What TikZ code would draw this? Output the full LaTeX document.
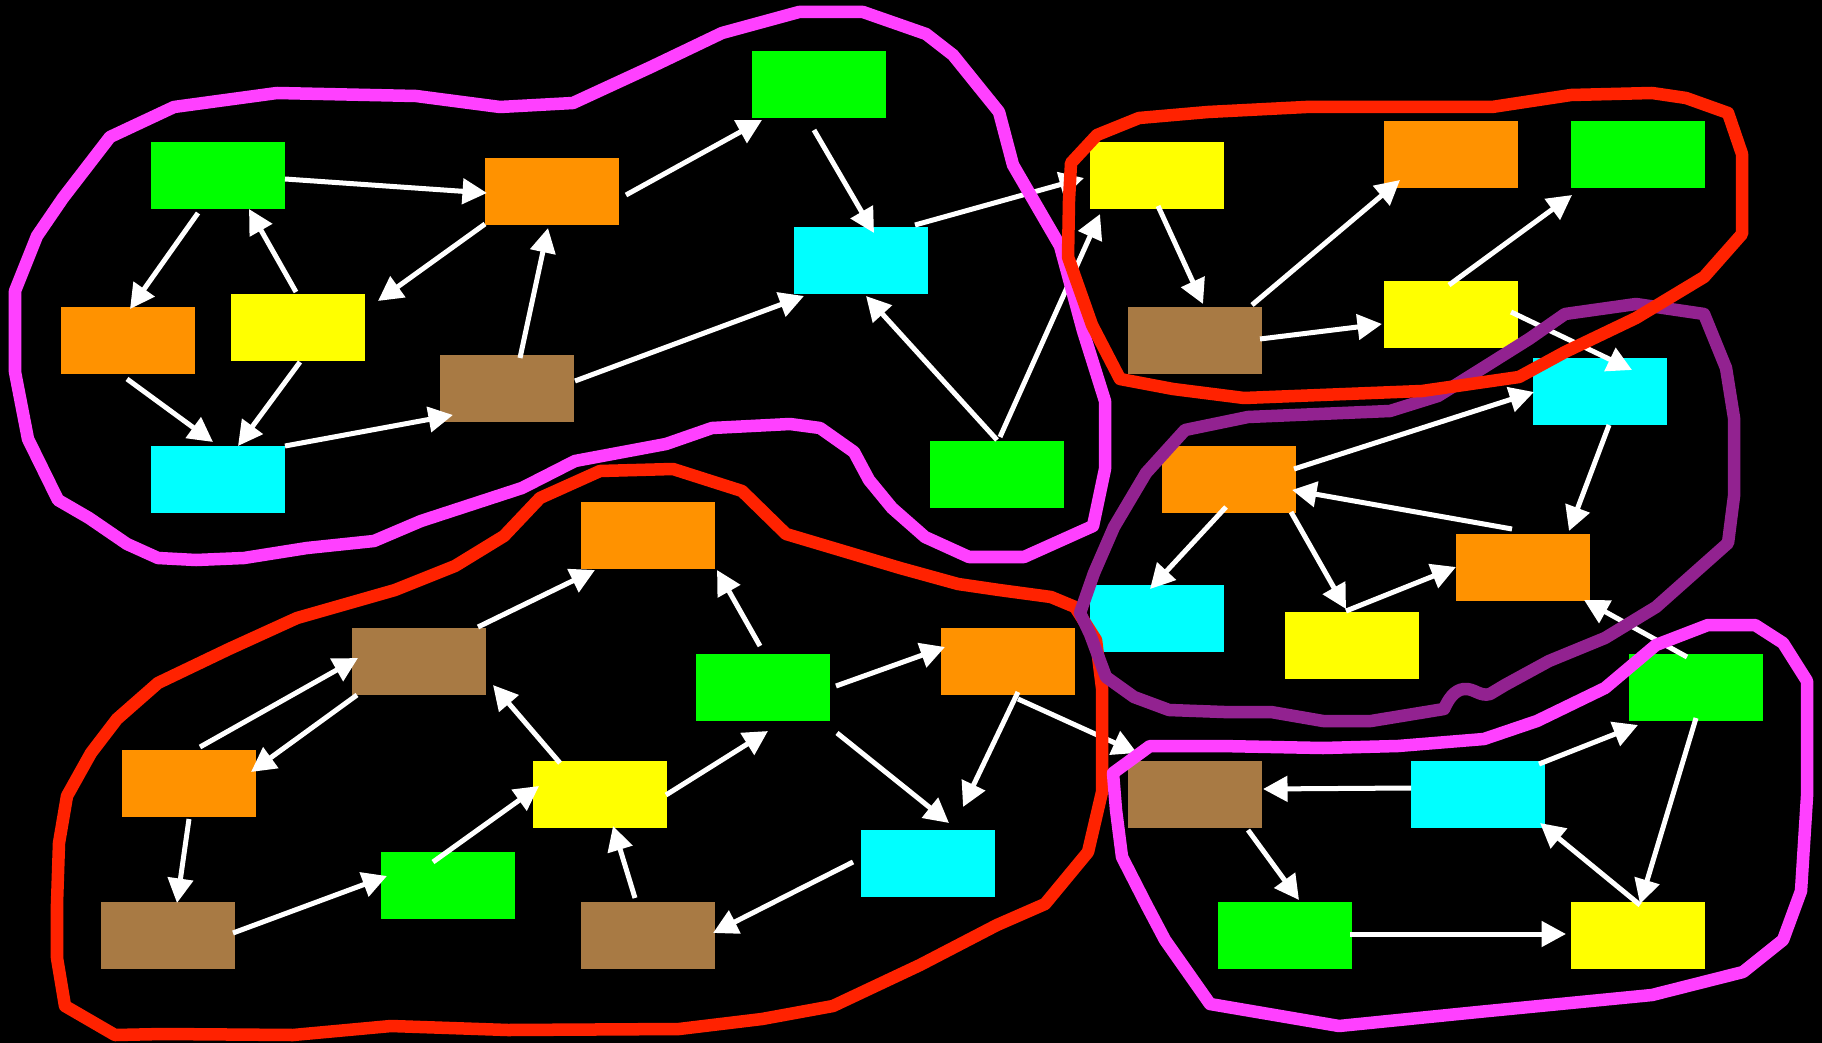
\documentclass[tikz,border=0pt]{standalone}
\usetikzlibrary{arrows.meta}
\definecolor{cgreen}{RGB}{0,255,0}
\definecolor{corange}{RGB}{255,146,0}
\definecolor{cyellow}{RGB}{255,255,0}
\definecolor{ccyan}{RGB}{0,255,255}
\definecolor{cbrown}{RGB}{168,122,68}
\definecolor{cmagenta}{RGB}{255,64,255}
\definecolor{cred}{RGB}{255,34,0}
\definecolor{cpurple}{RGB}{146,34,144}
\begin{document}
\begin{tikzpicture}[x=0.01cm,y=-0.01cm,
  box/.style={minimum width=1.34cm,minimum height=0.67cm,inner sep=0pt,outer sep=0pt},
  gbox/.style={box,fill=cgreen},
  obox/.style={box,fill=corange},
  ybox/.style={box,fill=cyellow},
  cbox/.style={box,fill=ccyan},
  bbox/.style={box,fill=cbrown},
  arr/.style={white,line width=0.05cm,-{Triangle[length=0.245cm,width=0.25cm]}},
  hull/.style={line width=0.125cm,line join=round}]
% background and frame
\fill[black] (0,0) rectangle (1822,1043);
\useasboundingbox (0,0) rectangle (1822,1043);

% boxes
\node[gbox] (G1) at (218,175.5) {};
\node[obox] (O1) at (552,191.5) {};
\node[gbox] (G2) at (819,84.5) {};
\node[obox] (O2) at (128,340.5) {};
\node[ybox] (Y1) at (298,327.5) {};
\node[bbox] (B1) at (507,388.5) {};
\node[cbox] (C1) at (861,260.5) {};
\node[cbox] (C2) at (218,479.5) {};
\node[gbox] (G3) at (997,474.5) {};
\node[ybox] (Y2) at (1157,175.5) {};
\node[obox] (O3) at (1451,154.5) {};
\node[gbox] (G4) at (1638,154.5) {};
\node[bbox] (B2) at (1195,340.5) {};
\node[ybox] (Y3) at (1451,314.5) {};
\node[cbox] (C3) at (1600,391.5) {};
\node[obox] (O4) at (1229,479.5) {};
\node[obox] (O5) at (1523,567.5) {};
\node[cbox] (C4) at (1157,618.5) {};
\node[ybox] (Y4) at (1352,645.5) {};
\node[gbox] (G5) at (1696,687.5) {};
\node[obox] (O6) at (648,535.5) {};
\node[bbox] (B3) at (419,661.5) {};
\node[gbox] (G6) at (763,687.5) {};
\node[obox] (O7) at (1008,661.5) {};
\node[obox] (O8) at (189,783.5) {};
\node[ybox] (Y5) at (600,794.5) {};
\node[cbox] (C5) at (928,863.5) {};
\node[bbox] (B4) at (168,935.5) {};
\node[gbox] (G7) at (448,885.5) {};
\node[bbox] (B5) at (648,935.5) {};
\node[bbox] (B6) at (1195,794.5) {};
\node[cbox] (C6) at (1478,794.5) {};
\node[gbox] (G8) at (1285,935.5) {};
\node[ybox] (Y6) at (1638,935.5) {};

% connectors
\draw[arr] ([shift={(67,3.5)}]G1.center) -- ([shift={(-65,1.5)}]O1.center);
\draw[arr] ([shift={(74,3.5)}]O1.center) -- ([shift={(-57,35.5)}]G2.center);
\draw[arr] ([shift={(-5,45.5)}]G2.center) -- ([shift={(13,-27.5)}]C1.center);
\draw[arr] ([shift={(54,-35.5)}]C1.center) -- ([shift={(-73,2.5)}]Y2.center);
\draw[arr] ([shift={(-20,37.5)}]G1.center) -- ([shift={(2,-31.5)}]O2.center);
\draw[arr] ([shift={(-2,-35.5)}]Y1.center) -- ([shift={(31,33.5)}]G1.center);
\draw[arr] ([shift={(-67,32.5)}]O1.center) -- ([shift={(80,-26.5)}]Y1.center);
\draw[arr] ([shift={(13,-30.5)}]B1.center) -- ([shift={(-4,36.5)}]O1.center);
\draw[arr] ([shift={(68,-7.5)}]B1.center) -- ([shift={(-57,35.5)}]C1.center);
\draw[arr] ([shift={(-1,38.5)}]O2.center) -- ([shift={(-5,-37.5)}]C2.center);
\draw[arr] ([shift={(2,34.5)}]Y1.center) -- ([shift={(20,-33.5)}]C2.center);
\draw[arr] ([shift={(67,-33.5)}]C2.center) -- ([shift={(-54,26.5)}]B1.center);
\draw[arr] ([shift={(0,-34.5)}]G3.center) -- ([shift={(5,35.5)}]C1.center);
\draw[arr] ([shift={(3,-37.5)}]G3.center) -- ([shift={(-57,38.5)}]Y2.center);
\draw[arr] ([shift={(1,30.5)}]Y2.center) -- ([shift={(8,-36.5)}]B2.center);
\draw[arr] ([shift={(57,-35.5)}]B2.center) -- ([shift={(-51,25.5)}]O3.center);
\draw[arr] ([shift={(-2,-29.5)}]Y3.center) -- ([shift={(-66,40.5)}]G4.center);
\draw[arr] ([shift={(65,-1.5)}]B2.center) -- ([shift={(-69,9.5)}]Y3.center);
\draw[arr] ([shift={(60,-2.5)}]Y3.center) -- ([shift={(32,-21.5)}]C3.center);
\draw[arr] ([shift={(65,-10.5)}]O4.center) -- ([shift={(-66,0.5)}]C3.center);
\draw[arr] ([shift={(9,33.5)}]C3.center) -- ([shift={(46,-36.5)}]O5.center);
\draw[arr] ([shift={(-11,-38.5)}]O5.center) -- ([shift={(63,10.5)}]O4.center);
\draw[arr] ([shift={(-3,27.5)}]O4.center) -- ([shift={(-7,-29.5)}]C4.center);
\draw[arr] ([shift={(62,32.5)}]O4.center) -- ([shift={(-6,-36.5)}]Y4.center);
\draw[arr] ([shift={(-6,-34.5)}]Y4.center) -- ([shift={(-67,-0.5)}]O5.center);
\draw[arr] ([shift={(-9,-30.5)}]G5.center) -- ([shift={(61,32.5)}]O5.center);
\draw[arr] ([shift={(0,30.5)}]G5.center) -- ([shift={(2,-31.5)}]Y6.center);
\draw[arr] ([shift={(61,-30.5)}]C6.center) -- ([shift={(-58,37.5)}]G5.center);
\draw[arr] ([shift={(2,-30.5)}]Y6.center) -- ([shift={(62,28.5)}]C6.center);
\draw[arr] ([shift={(-67,-6.5)}]C6.center) -- ([shift={(68,-5.5)}]B6.center);
\draw[arr] ([shift={(53,35.5)}]B6.center) -- ([shift={(14,-35.5)}]G8.center);
\draw[arr] ([shift={(65,-1.5)}]G8.center) -- ([shift={(-72,-1.5)}]Y6.center);
\draw[arr] ([shift={(10,37.5)}]O7.center) -- ([shift={(-58,-41.5)}]B6.center);
\draw[arr] ([shift={(10,30.5)}]O7.center) -- ([shift={(35,-56.5)}]C5.center);
\draw[arr] ([shift={(73,-1.5)}]G6.center) -- ([shift={(-63,-14.5)}]O7.center);
\draw[arr] ([shift={(-3,-41.5)}]G6.center) -- ([shift={(69,34.5)}]O6.center);
\draw[arr] ([shift={(59,-34.5)}]B3.center) -- ([shift={(-53,34.5)}]O6.center);
\draw[arr] ([shift={(11,-36.5)}]O8.center) -- ([shift={(-61,-3.5)}]B3.center);
\draw[arr] ([shift={(-62,33.5)}]B3.center) -- ([shift={(62,-11.5)}]O8.center);
\draw[arr] ([shift={(-40,-31.5)}]Y5.center) -- ([shift={(74,23.5)}]B3.center);
\draw[arr] ([shift={(66,0.5)}]Y5.center) -- ([shift={(5,43.5)}]G6.center);
\draw[arr] ([shift={(74,45.5)}]G6.center) -- ([shift={(21,-40.5)}]C5.center);
\draw[arr] ([shift={(0,35.5)}]O8.center) -- ([shift={(9,-32.5)}]B4.center);
\draw[arr] ([shift={(65,-2.5)}]B4.center) -- ([shift={(-61,-9.5)}]G7.center);
\draw[arr] ([shift={(-15,-23.5)}]G7.center) -- ([shift={(-61,-8.5)}]Y5.center);
\draw[arr] ([shift={(-13,-37.5)}]B5.center) -- ([shift={(13,31.5)}]Y5.center);
\draw[arr] ([shift={(-75,-1.5)}]C5.center) -- ([shift={(65,-2.5)}]B5.center);

% group outlines
\draw[hull,cmagenta] (174,107) -- (277,93) -- (416,96) -- (500,107) -- (573,103) -- (651,67) -- (722,33) -- (799,12) -- (863,12) -- (926,34) -- (953,55) -- (999,112) -- (1013,165) -- (1060,246) -- (1083,331) -- (1105,401) -- (1105,469) -- (1093,526) -- (1024,557) -- (969,557) -- (925,537) -- (892,508) -- (869,480) -- (854,452) -- (820,428) -- (790,424) -- (712,428) -- (666,444) -- (575,461) -- (522,488) -- (421,521) -- (374,541) -- (307,548) -- (244,558) -- (196,560) -- (158,558) -- (127,544) -- (89,518) -- (58,500) -- (28,439) -- (15,372) -- (15,291) -- (37,236) -- (63,198) -- (110,137) -- cycle;
\draw[hull,cred] (65,1006) -- (57,958) -- (57,904) -- (59,843) -- (67,796) -- (91,753) -- (117,719) -- (158,683) -- (229,649) -- (297,618) -- (395,590) -- (455,566) -- (504,536) -- (540,498) -- (600,471) -- (673,469) -- (742,491) -- (786,534) -- (833,548) -- (900,568) -- (958,584) -- (999,590) -- (1051,597) -- (1075,607) -- (1096,640) -- (1102,688) -- (1102,792) -- (1088,852) -- (1045,904) -- (997,925) -- (920,965) -- (833,1006) -- (762,1019) -- (679,1029) -- (508,1030) -- (391,1026) -- (293,1035) -- (163,1034) -- (115,1035) -- cycle;
\draw[hull,cmagenta] (1113,773) -- (1150,746) -- (1220,746) -- (1323,748) -- (1398,746) -- (1484,739) -- (1537,721) -- (1605,688) -- (1656,645) -- (1708,625) -- (1755,625) -- (1783,643) -- (1807,681) -- (1807,796) -- (1801,891) -- (1783,940) -- (1743,972) -- (1652,995) -- (1478,1012) -- (1339,1026) -- (1210,1004) -- (1165,940) -- (1146,904) -- (1122,857) -- (1116,810) -- cycle;
\draw[hull,cpurple] (1185,430) -- (1248,417) -- (1390,411) -- (1438,396) -- (1478,371) -- (1529,339) -- (1565,314) -- (1636,304) -- (1704,314) -- (1726,368) -- (1734,418) -- (1734,496) -- (1728,543) -- (1656,607) -- (1605,638) -- (1549,661) -- (1505,685) -- (1490,694) .. controls (1480,697) and (1474,688) .. (1464,689) .. controls (1454,690) and (1448,700) .. (1444,709) -- (1371,721) -- (1323,721) -- (1271,712) -- (1224,712) -- (1169,710) -- (1134,697) -- (1106,677) -- (1090,634) -- (1080,613) -- (1094,573) -- (1114,527) -- (1146,473) -- cycle;
\draw[hull,cred] (1071,163) -- (1097,135) -- (1139,118) -- (1208,112) -- (1306,107) -- (1492,107) -- (1571,95) -- (1652,93) -- (1686,98) -- (1728,113) -- (1742,154) -- (1742,234) -- (1704,277) -- (1636,318) -- (1565,352) -- (1519,377) -- (1422,391) -- (1244,398) -- (1173,389) -- (1120,379) -- (1092,325) -- (1068,257) -- (1069,200) -- cycle;
\end{tikzpicture}
\end{document}
